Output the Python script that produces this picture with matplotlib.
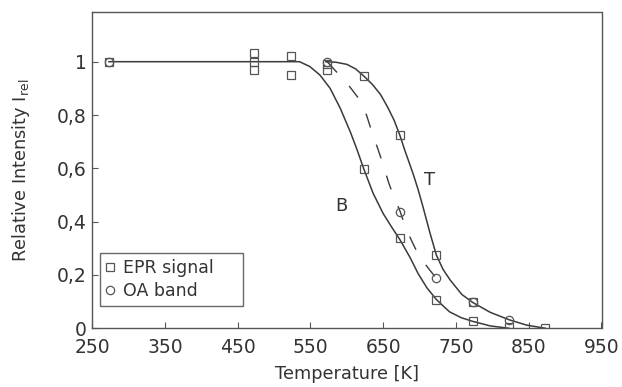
import matplotlib
matplotlib.use("Agg")
import matplotlib.pyplot as plt
from matplotlib.lines import Line2D

# ---- data ----
epr_T = [273, 473, 473, 473, 523, 523, 573, 573, 623, 623, 673, 673, 723, 723, 773, 773, 823, 873]
epr_I = [1.0, 1.033, 1.0, 0.97, 1.02, 0.95, 0.99, 0.97, 0.947, 0.596, 0.725, 0.338, 0.275, 0.108, 0.097, 0.026, 0.005, 0.0]

oa_T = [273, 573, 673, 723, 773, 823]
oa_I = [1.0, 1.0, 0.437, 0.188, 0.1, 0.031]

# curve B (solid, left)
B_T = [273, 535, 549, 563, 577, 591, 605, 614, 623, 636, 650, 662, 673, 687, 698, 710, 723, 741, 757, 773, 797, 823]
B_I = [1.0, 1.0, 0.982, 0.95, 0.90, 0.825, 0.735, 0.67, 0.60, 0.507, 0.43, 0.378, 0.332, 0.265, 0.205, 0.152, 0.108, 0.062, 0.04, 0.026, 0.009, 0.0]

# curve T (solid, right)
T_T = [571, 585, 600, 612, 623, 635, 646, 656, 665, 673, 680, 691, 698, 705, 714, 723, 732, 742, 758, 773, 797, 823, 847, 873]
T_I = [1.0, 0.998, 0.99, 0.973, 0.947, 0.915, 0.878, 0.83, 0.78, 0.723, 0.665, 0.58, 0.52, 0.452, 0.36, 0.275, 0.222, 0.181, 0.127, 0.097, 0.06, 0.032, 0.012, 0.0]

# dashed OA curve
D_T = [573, 588, 602, 616, 627, 634, 643, 650, 657, 662, 673, 682, 694, 705, 723, 737]
D_I = [1.0, 0.955, 0.913, 0.863, 0.80, 0.74, 0.67, 0.613, 0.55, 0.512, 0.44, 0.369, 0.30, 0.25, 0.187, 0.144]

x_ticks = [250, 350, 450, 550, 650, 750, 850, 950]
y_ticks = [0, 0.2, 0.4, 0.6, 0.8, 1.0]
y_ticklabels = ["0", "0,2", "0,4", "0,6", "0,8", "1"]

plt.rcParams['font.family'] = ['DejaVu Sans']
txt = '#333333'
line_c = '#3a3a3a'
mk_c = '#555555'

fig = plt.figure(figsize=(6.22, 3.87), dpi=100)
ax = fig.add_axes([92.2/622, 1 - 328.3/387, (601.5-92.2)/622, (328.3-11.7)/387])

ax.plot(B_T, B_I, color=line_c, lw=1.1, zorder=2)
ax.plot(T_T, T_I, color=line_c, lw=1.1, zorder=2)
ax.plot(D_T, D_I, color=line_c, lw=1.0, dashes=(10.5, 13), zorder=2)

ax.plot(epr_T, epr_I, linestyle='none', marker='s', markersize=5.6,
        markerfacecolor='none', markeredgecolor=mk_c, markeredgewidth=0.9, zorder=3)
ax.plot(oa_T, oa_I, linestyle='none', marker='o', markersize=6.0,
        markerfacecolor='none', markeredgecolor=mk_c, markeredgewidth=0.9, zorder=3)

ax.text(592, 0.46, 'B', fontsize=13, color=txt, ha='center', va='center')
ax.text(714, 0.556, 'T', fontsize=13, color=txt, ha='center', va='center')

ax.set_xlim(250, 950)
ax.set_ylim(0, 1.1875)
ax.set_xticks(x_ticks)
ax.set_xticklabels([str(v) for v in x_ticks])
ax.set_yticks(y_ticks)
ax.set_yticklabels(y_ticklabels)
ax.tick_params(direction='in', length=4, width=0.8, colors=mk_c, labelcolor=txt,
               labelsize=13.5)
ax.tick_params(axis='x', pad=7)
ax.tick_params(axis='y', pad=4)
for s in ax.spines.values():
    s.set_color('#555555')
    s.set_linewidth(1.0)

ax.set_xlabel('Temperature [K]', fontsize=12.8, color=txt, labelpad=6)
ax.set_ylabel('Relative Intensity I$_{\\mathregular{rel}}$', fontsize=12.8, color=txt, labelpad=18)

handles = [
    Line2D([], [], linestyle='none', marker='s', markersize=5.6, markerfacecolor='none',
           markeredgecolor=mk_c, markeredgewidth=0.9),
    Line2D([], [], linestyle='none', marker='o', markersize=6.0, markerfacecolor='none',
           markeredgecolor=mk_c, markeredgewidth=0.9),
]
leg = ax.legend(handles, ['EPR signal', 'OA band'], loc='lower left',
                bbox_to_anchor=(0.0153, 0.0704, 0.281, 0.186), mode='expand',
                borderaxespad=0, fontsize=12.5, frameon=True, fancybox=False,
                borderpad=0.35, handlelength=0.4, handletextpad=0.6, labelspacing=0.3,
                labelcolor=txt)
leg.get_frame().set_edgecolor('#444444')
leg.get_frame().set_linewidth(1.0)

fig.savefig('out.png', dpi=100)
